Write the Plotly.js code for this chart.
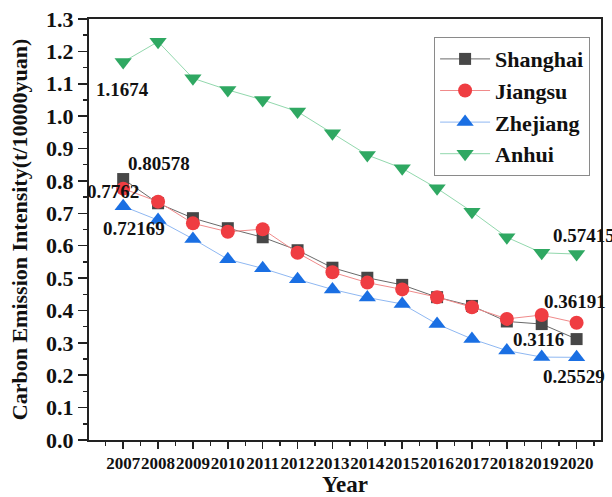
<!DOCTYPE html>
<html>
<head>
<meta charset="utf-8">
<script src="https://cdn.plot.ly/plotly-3.0.1.min.js"></script>
<style>html,body{margin:0;padding:0;background:#fff;}#chart{width:612px;height:497px;}</style>
</head>
<body>
<div id="chart"></div>
<script>
const years = [2007,2008,2009,2010,2011,2012,2013,2014,2015,2016,2017,2018,2019,2020];
const shanghai = [0.80578,0.731,0.685,0.654,0.626,0.586,0.532,0.501,0.479,0.441,0.414,0.366,0.358,0.3116];
const jiangsu  = [0.7762,0.736,0.669,0.643,0.651,0.578,0.518,0.486,0.465,0.441,0.410,0.374,0.386,0.36191];
const zhejiang = [0.72169,0.679,0.621,0.558,0.530,0.496,0.465,0.440,0.420,0.358,0.312,0.276,0.256,0.25529];
const anhui    = [1.1674,1.230,1.117,1.081,1.050,1.014,0.947,0.880,0.839,0.777,0.705,0.626,0.578,0.57415];
const seriesNames = ['Shanghai','Jiangsu','Zhejiang','Anhui'];

const FONT = 'Liberation Serif, Times New Roman, serif';
const styles = [
  {line:'#6a6a6a', marker:'#474747', symbol:'square', size:12},
  {line:'#f08a8a', marker:'#ef3d42', symbol:'circle', size:14},
  {line:'#8fb8f2', marker:'#1a6fe3', symbol:'triangle-up', size:15},
  {line:'#92d8ad', marker:'#2fa862', symbol:'triangle-down', size:15}
];
const allSeries = [shanghai, jiangsu, zhejiang, anhui];

const traces = allSeries.map((vals, i) => ({
  x: years, y: vals, name: seriesNames[i], type: 'scatter', mode: 'lines+markers',
  line: {color: styles[i].line, width: 1},
  marker: {color: styles[i].marker, symbol: styles[i].symbol, size: styles[i].size, line: {width: 0}},
  cliponaxis: false
}));

// value labels: [series index, point index, xshift, yshift]
const labelSpecs = [
  [3, 0, -1, -28],
  [0, 0, 36, 16],
  [1, 0, -10, -3],
  [2, 0, 11, -22],
  [3, 13, 7, 19],
  [1, 13, -2, 21],
  [0, 13, -38, 0],
  [2, 13, -3, -19]
];
const annotations = labelSpecs.map(([s, p, dx, dy]) => ({
  x: years[p], y: allSeries[s][p], xref: 'x', yref: 'y',
  text: String(allSeries[s][p]), showarrow: false,
  xshift: dx, yshift: dy,
  font: {family: FONT, size: 19, color: '#111', weight: 'bold'}
}));

const layout = {
  width: 612, height: 497,
  margin: {l: 89, r: 11, t: 19, b: 57},
  paper_bgcolor: '#fff', plot_bgcolor: '#fff',
  font: {family: FONT, color: '#111'},
  showlegend: true,
  legend: {
    x: 0.674, y: 0.957, xanchor: 'left', yanchor: 'top',
    bgcolor: '#fff', bordercolor: '#8a8a8a', borderwidth: 1,
    font: {family: FONT, size: 22, color: '#111', weight: 'bold'},
    itemwidth: 50,
    tracegroupgap: 0
  },
  xaxis: {
    range: [2006.02, 2020.7],
    tickmode: 'array', tickvals: years, ticktext: years.map(String),
    tickangle: 0,
    ticks: 'outside', ticklen: 7, tickwidth: 1.5, tickcolor: '#222',
    minor: {dtick: 0.5, tick0: 2007, ticks: 'outside', ticklen: 4, tickwidth: 1.5, tickcolor: '#222'},
    showline: true, linecolor: '#222', linewidth: 2, mirror: true,
    showgrid: false, zeroline: false,
    tickfont: {family: FONT, size: 17, color: '#111', weight: 'bold'},
    title: {text: 'Year', font: {family: FONT, size: 23, color: '#111', weight: 'bold'}, standoff: 12}
  },
  yaxis: {
    range: [0, 1.3], dtick: 0.1, tick0: 0, tickformat: '.1f',
    ticks: 'outside', ticklen: 9, tickwidth: 1.5, tickcolor: '#222',
    minor: {dtick: 0.05, ticks: 'outside', ticklen: 4, tickwidth: 1.5, tickcolor: '#222'},
    showline: true, linecolor: '#222', linewidth: 2, mirror: true,
    showgrid: false, zeroline: false,
    tickfont: {family: FONT, size: 22, color: '#111', weight: 'bold'},
    title: {text: 'Carbon Emission Intensity(t/10000yuan)', font: {family: FONT, size: 22, color: '#111', weight: 'bold'}, standoff: 12}
  },
  annotations: annotations
};

Plotly.newPlot('chart', traces, layout, {displayModeBar: false, staticPlot: true});
</script>
</body>
</html>
